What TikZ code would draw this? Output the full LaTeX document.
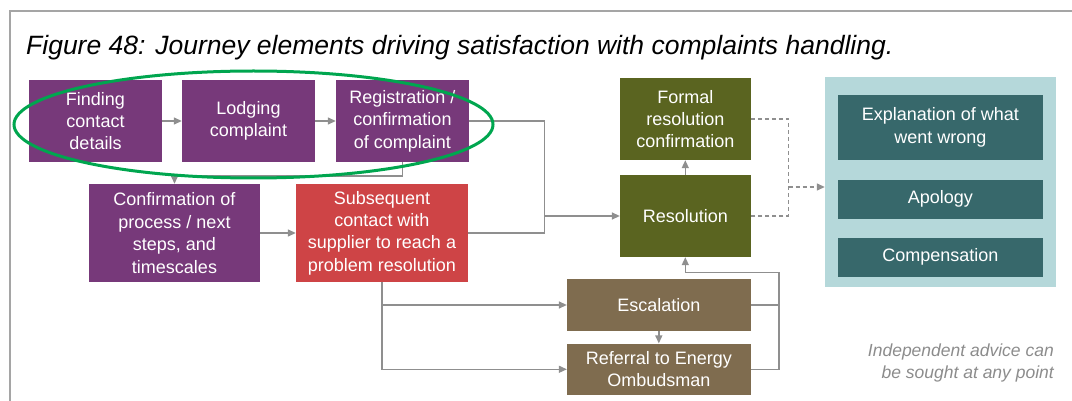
\documentclass[tikz,border=0pt]{standalone}
\usepackage{fontspec}
\setmainfont{Liberation Sans}
\usetikzlibrary{arrows.meta,calc}
\definecolor{cpurple}{HTML}{77397A}
\definecolor{cred}{HTML}{CE4446}
\definecolor{colive}{HTML}{5A6420}
\definecolor{cbrown}{HTML}{7F6C4F}
\definecolor{cteal}{HTML}{37686B}
\definecolor{clight}{HTML}{B5D8DA}
\definecolor{cgreen}{HTML}{00A64F}
\definecolor{cline}{HTML}{8F8F8F}
\definecolor{cframe}{HTML}{A5A5A5}
\definecolor{cnote}{HTML}{8C8C8C}
\tikzset{
  box/.style={rectangle, inner sep=0pt, align=center, text=white,
    font=\fontsize{18}{22.4}\selectfont},
  conn/.style={draw=cline, line width=1.4pt},
  arr/.style={conn, -{Triangle[length=8pt,width=7pt]}},
  dash line/.style={conn, dash pattern=on 4pt off 3pt},
}
\begin{document}
\begin{tikzpicture}[x=1pt,y=-1pt]
\useasboundingbox (0,0) rectangle (1072,401);
% frame
\draw[cframe, line width=2pt] (10.3,402) -- (10.3,11.4) -- (1073,11.4);
% title
\node[anchor=base west, inner sep=0pt, font=\fontsize{26.5}{30}\selectfont\itshape] (title) at (26,55)
  {Figure 48: Journey elements driving satisfaction with complaints handling.};
% boxes
\node[box, fill=cpurple, minimum width=133pt, minimum height=82pt] (find) at (95.5,121) {Finding\\contact\\details};
\node[box, fill=cpurple, minimum width=133pt, minimum height=82pt] (lodge) at (248.5,121) {Lodging\\complaint};
\node[box, fill=cpurple, minimum width=133pt, minimum height=82pt] (reg) at (402.5,121) {Registration /\\confirmation\\of complaint};
\node[box, fill=cpurple, minimum width=171pt, minimum height=98pt] (conf) at (174.5,233) {Confirmation of\\process / next\\steps, and\\timescales};
\node[box, fill=cred, minimum width=172pt, minimum height=98pt] (subs) at (382,233) {Subsequent\\contact with\\supplier to reach a\\problem resolution};
\node[box, fill=colive, minimum width=130.5pt, minimum height=82pt] (formal) at (685.3,119) {Formal\\resolution\\confirmation};
\node[box, fill=colive, minimum width=130.5pt, minimum height=82pt] (resol) at (685.3,216) {Resolution};
\node[box, fill=cbrown, minimum width=183.5pt, minimum height=52pt] (esc) at (658.8,305) {Escalation};
\node[box, fill=cbrown, minimum width=183.5pt, minimum height=51.4pt] (ref) at (658.8,369.3) {Referral to Energy\\Ombudsman};
\node[box, fill=clight, minimum width=231pt, minimum height=210.4pt] (panel) at (940.5,181.8) {};
\node[box, fill=cteal, minimum width=204.6pt, minimum height=65pt] (t1) at (940.3,127.5) {Explanation of what\\went wrong};
\node[box, fill=cteal, minimum width=204.6pt, minimum height=39.4pt] (t2) at (940.3,199.3) {Apology};
\node[box, fill=cteal, minimum width=204.6pt, minimum height=39.3pt] (t3) at (940.3,257.3) {Compensation};
% note
\node[anchor=east, inner sep=0pt, align=right, text=cnote,
  font=\fontsize{17.5}{22.6}\selectfont\itshape] (note) at (1054,363)
  {Independent advice can\\be sought at any point};
% helper coordinates
\coordinate (jx) at (544.5,0);
\coordinate (jr) at (779,0);
\coordinate (jrb) at (779,272.6);
\coordinate (jd) at (788.5,187);
% connectors
\draw[arr] (find.east) -- (lodge.west);
\draw[arr] (lodge.east) -- (reg.west);
\draw[arr] (reg.south) -- ++(0,14) -| (conf.north);
\draw[arr] (conf.east) -- (subs.west);
\draw[conn] (reg.east) -| (jx |- subs.east) -- (subs.east);
\draw[arr] (jx |- resol.west) -- (resol.west);
\draw[arr] (resol.north) -- (formal.south);
\draw[arr] (subs.south) |- (ref.west);
\draw[arr] (subs.south |- esc.west) -- (esc.west);
\draw[arr] (esc.south -| ref.north) -- (ref.north);
\draw[conn] (esc.east) -- (esc.east -| jr);
\draw[arr] (ref.east) -| (jrb) -| (resol.south);
% dashed
\draw[dash line] (formal.east) -| (jd |- resol.east) -- (resol.east);
\draw[dash line, -{Triangle[length=8pt,width=7pt]}] (jd) -- (jd -| panel.west);
% ellipse
\draw[cgreen, line width=3pt] (253.5,124.5) ellipse [x radius=239.5, y radius=53.5];
\end{tikzpicture}
\end{document}
